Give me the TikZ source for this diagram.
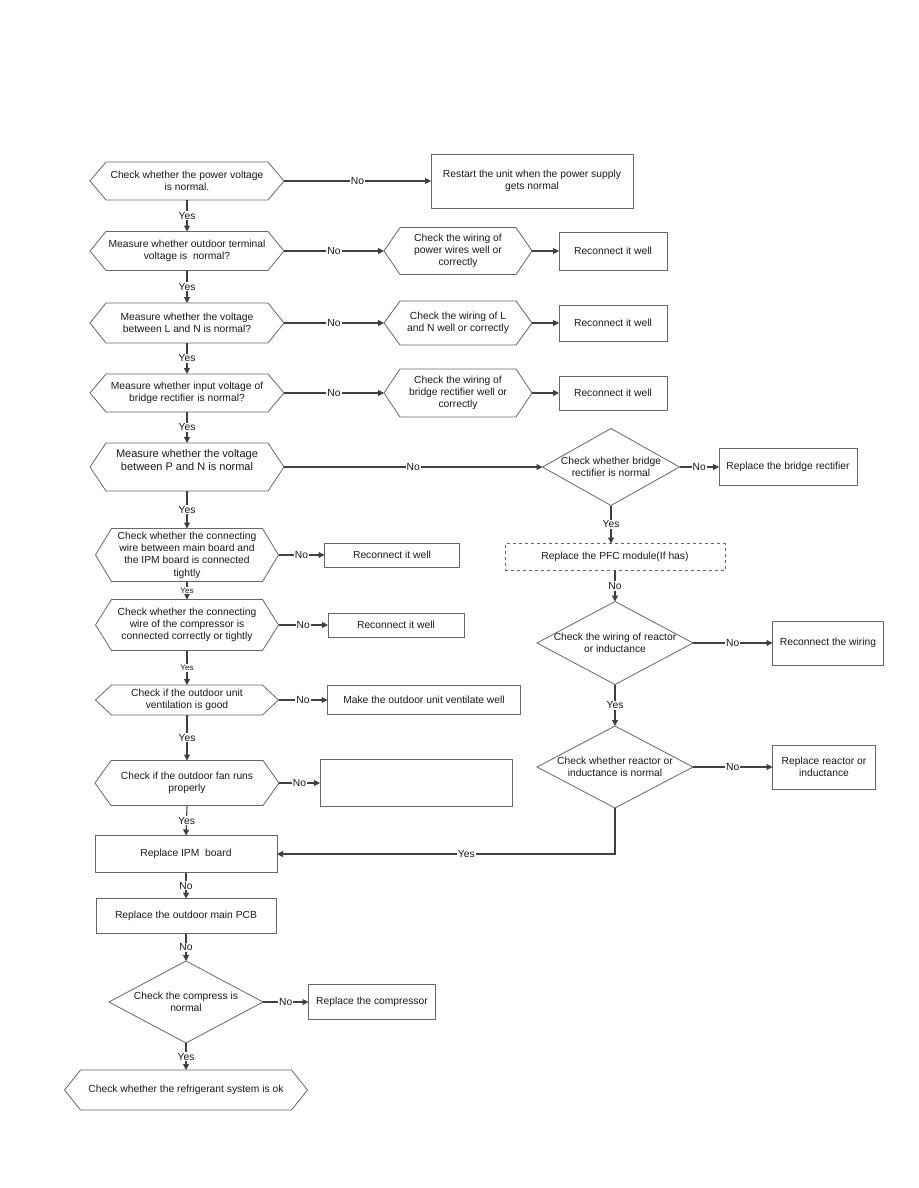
\documentclass[tikz,border=0pt]{standalone}
\usepackage{fontspec}
\setmainfont{Liberation Sans}
\usetikzlibrary{arrows.meta}

\begin{document}
\begin{tikzpicture}[x=1pt,y=-1pt,
    every node/.style={font=\fontsize{10.3}{12.3}\selectfont, text=black!90, align=center, inner sep=0pt, outer sep=0pt},
    hexnode/.style 2 args={minimum width=#1, minimum height=#2},
    choice/.style 2 args={minimum width=#1, minimum height=#2},
    box/.style 2 args={draw=black!60, line width=0.8pt, minimum width=#1, minimum height=#2},
    outline/.style={draw=black!60, line width=0.8pt},
    conn/.style={draw=black!75, line width=1.1pt, -{Triangle[length=6pt,width=6pt]}},
    lbl/.style={fill=white, inner sep=1pt},
    tiny/.style={fill=white, inner sep=1pt, font=\fontsize{8}{9}\selectfont}]
    \useasboundingbox (0,0) rectangle (918,1188);

    \node[hexnode={194}{38}] (h1) at (187,181) {Check whether the power voltage\\is normal.};
    \node[box={202}{54}] (r1) at (532,181) {Restart the unit when the power supply\\gets normal};

    \node[hexnode={194}{39}] (h2) at (187,251) {Measure whether outdoor terminal\\voltage is\ \ normal?};
    \node[hexnode={148}{47}] (h2b) at (458,251) {Check the wiring of\\power wires well or\\correctly};
    \node[box={108}{38}] (r2) at (613,251) {Reconnect it well};

    \node[hexnode={194}{40}] (h3) at (187,323) {Measure whether the voltage\\between L and N is normal?};
    \node[hexnode={148}{44}] (h3b) at (458,323) {Check the wiring of L\\and N well or correctly};
    \node[box={108}{36}] (r3) at (613,323) {Reconnect it well};

    \node[hexnode={194}{38}] (h4) at (187,393) {Measure whether input voltage of\\bridge rectifier is normal?};
    \node[hexnode={148}{48}] (h4b) at (458,393) {Check the wiring of\\bridge rectifier well or\\correctly};
    \node[box={108}{34}] (r4) at (613,393) {Reconnect it well};

    \node[hexnode={194}{48}, font=\fontsize{11}{13}\selectfont] (h5) at (187,467) {Measure whether the voltage\\between P and N is normal\\[1pt]\mbox{}};
    \node[choice={137}{77}] (d1) at (611,467) {Check whether bridge\\rectifier is normal};
    \node[box={138}{37}] (rb) at (788,467) {Replace the bridge rectifier};
    \node[box={220}{27}, dashed] (pfc) at (615,557) {Replace the PFC module(If has)};
    \node[choice={156}{83}] (d2) at (615,643) {Check the wiring of reactor\\or inductance};
    \node[box={111}{44}] (rw) at (828,643) {Reconnect the wiring};
    \node[choice={156}{82}] (d3) at (615,767) {Check whether reactor or\\inductance is normal};
    \node[box={103}{44}] (rr) at (824,767) {Replace reactor or\\inductance};

    \node[hexnode={183}{53}] (h6) at (187,555) {Check whether the connecting\\wire between main board and\\the IPM board is connected\\tightly};
    \node[box={135}{24}] (r6) at (392,555) {Reconnect it well};
    \node[hexnode={183}{51}] (h7) at (187,625) {Check whether the connecting\\wire of the compressor is\\connected correctly or tightly};
    \node[box={136}{24}] (r7) at (396,625) {Reconnect it well};
    \node[hexnode={183}{30}] (h8) at (187,700) {Check if the outdoor unit\\ventilation is good};
    \node[box={193}{29}] (r8) at (424,700) {Make the outdoor unit ventilate well};
    \node[hexnode={184}{45}] (h9) at (187,783) {Check if the outdoor fan runs\\properly};
    \node[box={192}{47}] (r9) at (416,783) {};
    \node[box={182}{37}] (ipm) at (186,854) {Replace IPM\ \ board};
    \node[box={180}{35}] (pcb) at (186,916) {Replace the outdoor main PCB};
    \node[choice={154}{82}] (d4) at (186,1002) {Check the compress is\\normal};
    \node[box={127}{35}] (rc) at (372,1002) {Replace the compressor};
    \node[hexnode={243}{40}] (h10) at (186,1090) {Check whether the refrigerant system is ok};

    % outlines
    \foreach \n in {h1,h2,h2b,h3,h3b,h4,h4b,h5,h6,h7,h8,h9,h10}
        \draw[outline] ([xshift=16pt]\n.north west) -- ([xshift=-16pt]\n.north east) -- (\n.east)
            -- ([xshift=-16pt]\n.south east) -- ([xshift=16pt]\n.south west) -- (\n.west) -- cycle;
    \foreach \n in {d1,d2,d3,d4}
        \draw[outline] (\n.north) -- (\n.east) -- (\n.south) -- (\n.west) -- cycle;

    % yes / no branches
    \foreach \a/\b in {h1/h2,h2/h3,h3/h4,h4/h5,h5/h6,h8/h9,h9/ipm,d4/h10}
        \draw[conn] (\a.south) -- node[lbl] {Yes} (\b.north);
    \foreach \a/\b in {h6/h7,h7/h8}
        \draw[conn] (\a.south) -- node[tiny] {Yes} (\b.north);
    \foreach \a/\b in {ipm/pcb,pcb/d4,pfc/d2}
        \draw[conn] (\a.south) -- node[lbl] {No} (\b.north);
    \foreach \a/\b in {h1/r1,h2/h2b,h3/h3b,h4/h4b,h5/d1,d1/rb,d2/rw,d3/rr,h6/r6,h7/r7,h8/r8,h9/r9,d4/rc}
        \draw[conn] (\a.east) -- node[lbl] {No} (\b.west);
    \foreach \a/\b in {h2b/r2,h3b/r3,h4b/r4}
        \draw[conn] (\a.east) -- (\b.west);
    \draw[conn] (d1.south) -- node[lbl] {Yes} (d1.south |- pfc.north);
    \draw[conn] (d2.south) -- node[lbl] {Yes} (d3.north);
    \draw[conn] (d3.south) |- node[lbl, pos=0.72] {Yes} (ipm.east);
\end{tikzpicture}
\end{document}
